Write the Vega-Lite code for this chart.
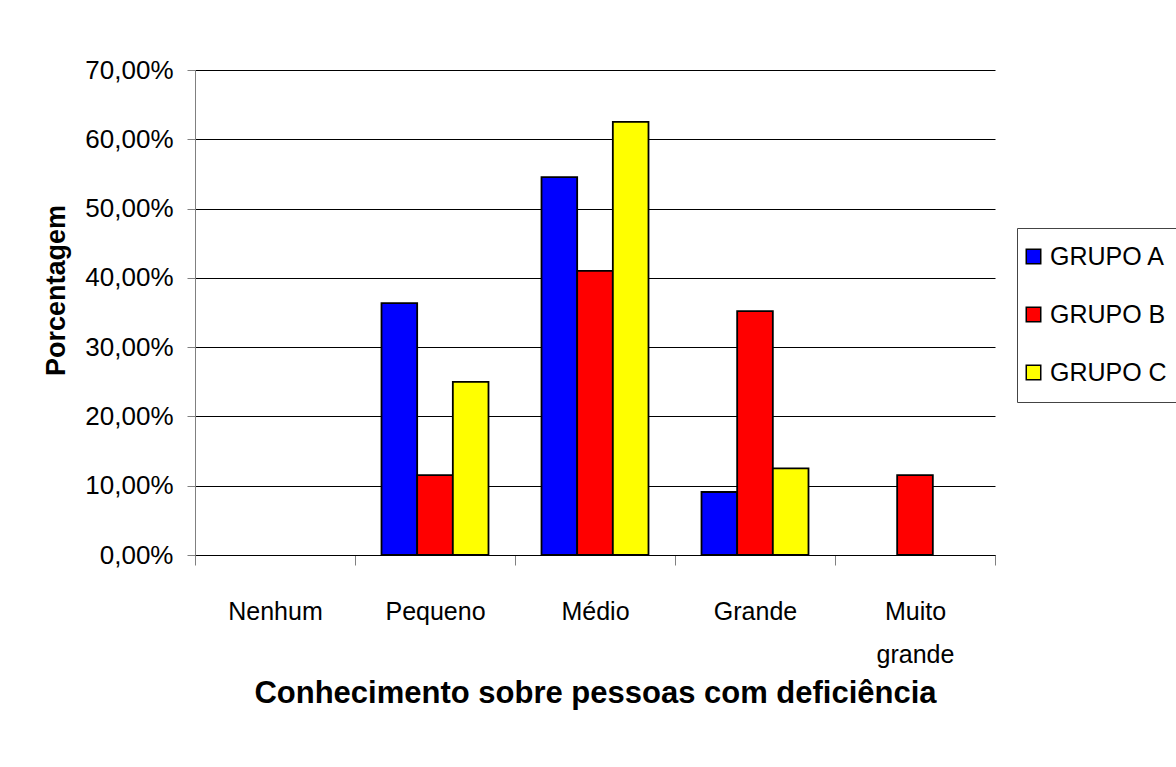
{
  "$schema": "https://vega.github.io/schema/vega-lite/v6.json",
  "autosize": {"type": "none"},
  "width": 800,
  "height": 485,
  "padding": {"left": 195, "top": 70, "right": 181, "bottom": 212},
  "background": "white",
  "config": {
    "font": "Liberation Sans",
    "view": {"stroke": null}
  },
  "data": {
    "values": [
      {"categoria": "Pequeno", "grupo": "GRUPO A", "valor": 0.3636},
      {"categoria": "Pequeno", "grupo": "GRUPO B", "valor": 0.1154},
      {"categoria": "Pequeno", "grupo": "GRUPO C", "valor": 0.25},
      {"categoria": "Médio", "grupo": "GRUPO A", "valor": 0.5455},
      {"categoria": "Médio", "grupo": "GRUPO B", "valor": 0.41},
      {"categoria": "Médio", "grupo": "GRUPO C", "valor": 0.625},
      {"categoria": "Grande", "grupo": "GRUPO A", "valor": 0.0909},
      {"categoria": "Grande", "grupo": "GRUPO B", "valor": 0.352},
      {"categoria": "Grande", "grupo": "GRUPO C", "valor": 0.125},
      {"categoria": "Muito grande", "grupo": "GRUPO B", "valor": 0.1154}
    ]
  },
  "mark": {"type": "bar", "stroke": "black", "strokeWidth": 1.8},
  "encoding": {
    "x": {
      "field": "categoria",
      "type": "nominal",
      "sort": ["Nenhum", "Pequeno", "Médio", "Grande", "Muito grande"],
      "scale": {"domain": ["Nenhum", "Pequeno", "Médio", "Grande", "Muito grande"], "paddingInner": 0, "paddingOuter": 0},
      "axis": {
        "title": "Conhecimento sobre pessoas com deficiência",
        "titleFontSize": 31,
        "titleFontWeight": "bold",
        "titleColor": "black",
        "titlePadding": 11,
        "labelAngle": 0,
        "labelFontSize": 25,
        "labelColor": "black",
        "labelPadding": 34,
        "labelLineHeight": 43,
        "labelExpr": "split(datum.label, ' ')",
        "tickBand": "extent",
        "tickSize": 10,
        "tickColor": "#808080",
        "domainColor": "black",
        "grid": false
      }
    },
    "xOffset": {
      "field": "grupo",
      "type": "nominal",
      "scale": {"domain": ["GRUPO A", "GRUPO B", "GRUPO C"], "paddingInner": 0, "paddingOuter": 0.743}
    },
    "y": {
      "field": "valor",
      "type": "quantitative",
      "scale": {"domain": [0, 0.7]},
      "axis": {
        "title": "Porcentagem",
        "titleFontSize": 27,
        "titleFontWeight": "bold",
        "titleColor": "black",
        "titlePadding": 14,
        "titleY": 220,
        "values": [0, 0.1, 0.2, 0.3, 0.4, 0.5, 0.6, 0.7],
        "labelExpr": "replace(format(datum.value, '.2%'), '.', ',')",
        "labelFontSize": 26,
        "labelColor": "black",
        "labelPadding": 14,
        "tickSize": 8,
        "tickColor": "#808080",
        "domainColor": "#808080",
        "gridColor": "black",
        "gridOpacity": 1
      }
    },
    "fill": {
      "field": "grupo",
      "type": "nominal",
      "scale": {"domain": ["GRUPO A", "GRUPO B", "GRUPO C"], "range": ["#0000FF", "#FF0000", "#FFFF00"]},
      "legend": {
        "title": null,
        "orient": "none",
        "legendX": 822,
        "legendY": 158,
        "strokeColor": "#444444",
        "padding": 16,
        "symbolType": "square",
        "symbolSize": 210,
        "symbolOffset": -12,
        "symbolStrokeColor": "black",
        "symbolStrokeWidth": 1.5,
        "labelFontSize": 25,
        "labelColor": "black",
        "labelOffset": 4,
        "rowPadding": 32,
        "labelLimit": 300
      }
    }
  }
}
